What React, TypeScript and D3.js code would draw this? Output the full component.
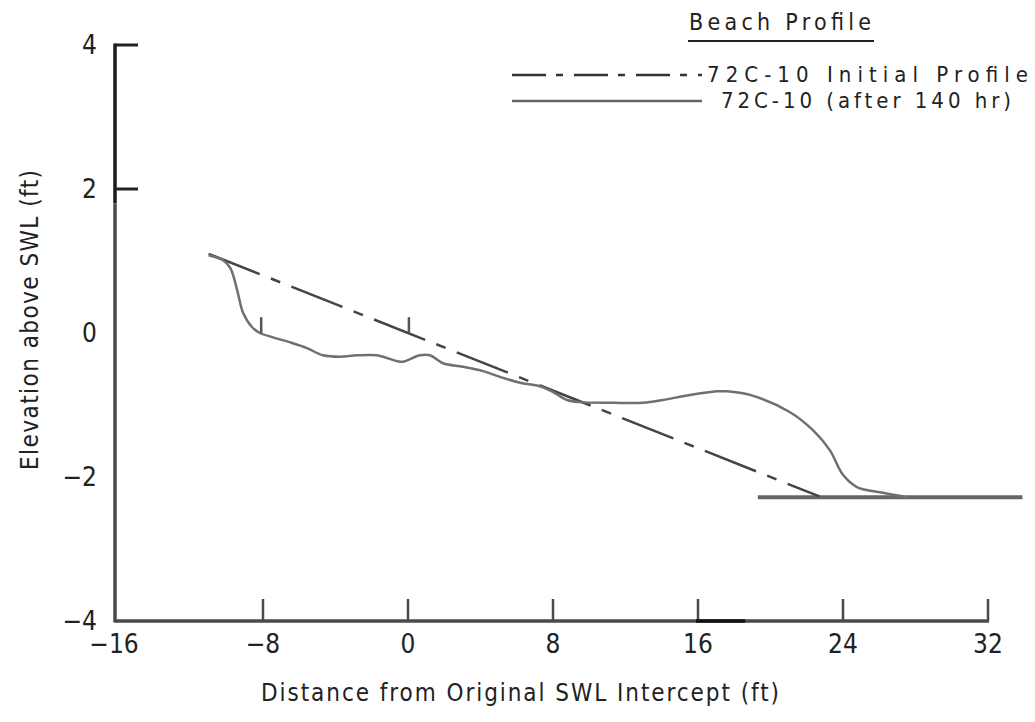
import React from "react";
import * as d3 from "d3";

const W = 1035;
const H = 722;

// Axis ticks
const xTicks = [-16, -8, 0, 8, 16, 24, 32];
const xTickMarks = [-8, 0, 8, 16, 24, 32];
const yTicks = [4, 2, 0, -2, -4];
const yTickMarks = [4, 2];

// Initial profile (1:10 slope through SWL intercept)
const initialX = [-11.0, 22.7];
const initialY = [1.1, -2.27];

// Flat base of the tank
const baseX = [19.3, 33.9];
const baseY = [-2.28, -2.28];

// Profile after 140 hr
const profileX = [-11.0, -10.2, -9.8, -9.43, -9.1, -8.6, -8.17, -7.45, -6.5, -5.57, -4.69, -3.75, -2.81, -1.71, -0.61, -0.28, 0.66, 1.21, 1.93, 3.03, 4.14, 5.08, 6.18, 7.28, 8.0, 8.77, 9.49, 11.31, 12.97, 14.07, 15.56, 17.05, 17.6, 18.87, 21.08, 22.34, 23.28, 24.0, 24.77, 26.21, 27.53];
const profileY = [1.08, 1.01, 0.9, 0.6, 0.28, 0.08, 0.0, -0.06, -0.13, -0.21, -0.31, -0.33, -0.31, -0.31, -0.39, -0.4, -0.31, -0.31, -0.42, -0.47, -0.53, -0.61, -0.69, -0.74, -0.82, -0.93, -0.96, -0.97, -0.97, -0.93, -0.86, -0.81, -0.81, -0.86, -1.1, -1.35, -1.63, -1.97, -2.14, -2.22, -2.28];

// Survey stakes
const stakeX = [-8.1, 0.05];
const stakeY = [0, 0.22];

const FONT = "'DejaVu Sans Condensed', 'DejaVu Sans', sans-serif";

export default function App() {
  const x = d3.scaleLinear().domain([-16, 32]).range([118, 988]);
  const y = d3.scaleLinear().domain([-4, 4]).range([621, 45]);

  const line = d3
    .line<[number, number]>()
    .x((d) => x(d[0]))
    .y((d) => y(d[1]));
  const smooth = d3
    .line<[number, number]>()
    .x((d) => x(d[0]))
    .y((d) => y(d[1]))
    .curve(d3.curveCatmullRom.alpha(0.5));

  const initPts: [number, number][] = initialX.map((v, i) => [v, initialY[i]]);
  const basePts: [number, number][] = baseX.map((v, i) => [v, baseY[i]]);
  const profPts: [number, number][] = profileX.map((v, i) => [v, profileY[i]]);

  const axisColor = "#4a4a4a";
  const x0 = x(-16) - 3;

  return (
    <svg
      width={W}
      height={H}
      style={{ position: "absolute", left: 0, top: 0, background: "#fff" }}
      fontFamily={FONT}
    >
      {/* Y axis */}
      <line x1={x0} x2={x0} y1={y(-4) + 1.5} y2={y(1.8)} stroke={axisColor} strokeWidth={3.5} />
      <line x1={x0} x2={x0} y1={y(1.8)} y2={y(4) - 1.5} stroke="#1a1a1a" strokeWidth={3.5} />
      {yTickMarks.map((t) => (
        <line key={t} x1={x0} x2={x0 + 23} y1={y(t)} y2={y(t)} stroke="#222" strokeWidth={3} />
      ))}
      {yTicks.map((t) => (
        <text key={t} x={97} y={y(t) + 9} textAnchor="end" fontSize={26} fill="#222">
          {t < 0 ? "\u2212" + Math.abs(t) : t}
        </text>
      ))}
      {/* X axis */}
      <line x1={x0} x2={x(32) + 1} y1={y(-4)} y2={y(-4)} stroke={axisColor} strokeWidth={3.5} />
      {xTickMarks.map((t) => (
        <line key={t} x1={x(t)} x2={x(t)} y1={y(-4)} y2={y(-4) - 22} stroke={axisColor} strokeWidth={2.5} />
      ))}
      <line x1={x(16) - 2} x2={x(18.6)} y1={y(-4)} y2={y(-4)} stroke="#111" strokeWidth={3.5} />
      {xTicks.map((t) => (
        <text key={t} x={x(t) + (t === -16 ? -4 : 0)} y={653} textAnchor="middle" fontSize={26} fill="#222">
          {t < 0 ? "\u2212" + Math.abs(t) : t}
        </text>
      ))}

      {/* Axis titles */}
      <text x={520} y={701} textAnchor="middle" fontSize={24} fill="#222" textLength={518} lengthAdjust="spacing">
        Distance from Original SWL Intercept (ft)
      </text>
      <text
        transform={`translate(38, 320) rotate(-90)`}
        textAnchor="middle"
        fontSize={24}
        fill="#222"
        textLength={300}
        lengthAdjust="spacing"
      >
        Elevation above SWL (ft)
      </text>

      {/* Base */}
      <path d={line(basePts) || ""} fill="none" stroke="#666" strokeWidth={4} />
      {/* Initial profile */}
      <path d={line(initPts) || ""} fill="none" stroke="#444" strokeWidth={2.5} strokeDasharray="55,12,10,12" />
      {/* Profile after 140 hr */}
      <path d={smooth(profPts) || ""} fill="none" stroke="#707070" strokeWidth={2.5} />
      {/* Stakes */}
      {stakeX.map((sx) => (
        <line key={sx} x1={x(sx)} x2={x(sx)} y1={y(stakeY[0])} y2={y(stakeY[1])} stroke="#555" strokeWidth={2.5} />
      ))}

      {/* Legend */}
      <text x={780} y={30} textAnchor="middle" fontSize={23} fill="#222" textLength={182} lengthAdjust="spacing">
        Beach Profile
      </text>
      <line x1={688} x2={874} y1={41} y2={41} stroke="#222" strokeWidth={2} />
      <line x1={512} x2={702} y1={75} y2={75} stroke="#333" strokeWidth={2.5} strokeDasharray="34,10,7,11" />
      <text x={707} y={82} fontSize={22} fill="#222" textLength={321} lengthAdjust="spacing">
        72C-10 Initial Profile
      </text>
      <line x1={512} x2={702} y1={101} y2={101} stroke="#666" strokeWidth={2.5} />
      <text x={721} y={108} fontSize={22} fill="#222" textLength={290} lengthAdjust="spacing">
        72C-10 (after 140 hr)
      </text>
    </svg>
  );
}
